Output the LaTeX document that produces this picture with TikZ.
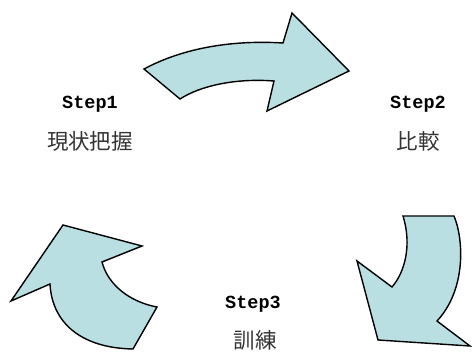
\documentclass[tikz,border=0pt]{standalone}
\usepackage{fontspec}
\newfontfamily\cjk{Noto Sans CJK JP}
\newfontfamily\stepfont{Liberation Mono}
\definecolor{arrowfill}{RGB}{185,223,227}
\begin{document}
\begin{tikzpicture}[x=1pt,y=-1pt,
  bigarrow/.style={draw=black,fill=arrowfill,line width=1.4pt,line join=miter},
  steplabel/.style={font=\stepfont\bfseries\fontsize{18.5}{21}\selectfont,text=black,inner sep=0pt},
  jplabel/.style={font=\cjk\fontsize{21.5}{24}\selectfont,text=black!80,inner sep=0pt}]
\useasboundingbox (0,0) rectangle (472,352);
% top arrow
\draw[bigarrow] (144,69) .. controls (185,47) and (235,40) .. (283,43) -- (292,13) -- (349,71) -- (267,111) -- (274,81) .. controls (235,78) and (200,86) .. (180,99) -- cycle;
% bottom-right arrow
\draw[bigarrow] (403,216) -- (454,216) .. controls (464,240) and (466,290) .. (437,321) -- (470,346) -- (378,340) -- (357,261) -- (392,287) .. controls (405,272) and (412,245) .. (403,216) -- cycle;
% bottom-left arrow
\draw[bigarrow] (63,225) -- (142,246) -- (102,262) .. controls (108,285) and (130,302) .. (157,307) -- (133,349) .. controls (80,348) and (52,322) .. (50,284) -- (11,301) -- cycle;
% labels
\node[steplabel] (s1) at (90,104) {Step1};
\node[jplabel] (j1) at (90,141) {現状把握};
\node[steplabel] (s2) at (418,104) {Step2};
\node[jplabel] (j2) at (418,141) {比較};
\node[steplabel] (s3) at (253,304) {Step3};
\node[jplabel] (j3) at (255,340) {訓練};
\end{tikzpicture}
\end{document}
